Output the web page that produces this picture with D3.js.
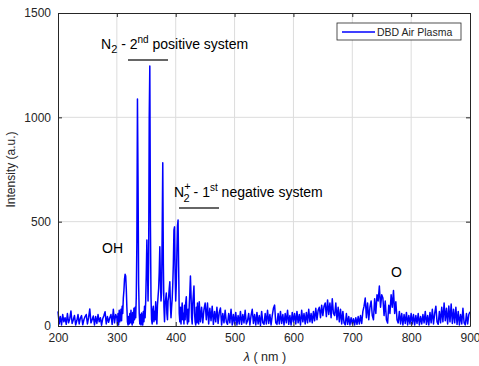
<!DOCTYPE html>
<html>
<head>
<meta charset="utf-8">
<script src="https://cdn.jsdelivr.net/npm/d3@7"></script>
<style>
  body { margin: 0; background: #fff; }
  svg { display: block; font-family: "Liberation Sans", Arial, sans-serif; }
</style>
</head>
<body>
<div id="chart"></div>
<script>
// wavelength grid: 2 nm steps outside the band region, 1 nm steps 300-439 nm
const lambda = [].concat(d3.range(200, 300, 2), d3.range(300, 440, 1), d3.range(440, 902, 2));

// intensities (a.u.)
const intensity200 = [
  70, 10, 45, 5, 55, 20, 40, 8, 60, 15, 35, 72, 12, 30, 50, 5, 25, 55, 10, 38,
  50, 6, 30, 45, 55, 10, 40, 82, 15, 30, 48, 5, 45, 12, 55, 20, 40, 4, 35, 50,
  68, 10, 45, 18, 40, 55, 8, 80, 15, 55
];
const intensity300 = [
  40, 10, 60, 5, 75, 20, 35, 80, 25, 95, 60, 135, 170, 225, 248, 240, 180, 90, 20, 5,
  45, 10, 60, 15, 75, 20, 5, 65, 15, 85, 30, 90, 40, 140, 400, 1088, 700, 200, 60, 10,
  55, 5, 62, 15, 5, 70, 20, 95, 40, 120, 250, 412, 280, 120, 300, 1000, 1246, 500, 140, 30,
  10, 80, 95, 20, 70, 30, 116, 40, 10, 100, 140, 180, 260, 380, 220, 120, 160, 450, 782, 300,
  90, 20, 110, 130, 158, 60, 30, 120, 140, 180, 212, 100, 40, 90, 130, 200, 300, 460, 475, 250,
  120, 200, 350, 480, 508, 280, 60, 20, 90, 10, 70, 110, 30, 60, 10, 100, 30, 110, 140, 40,
  10, 80, 20, 100, 160, 240, 150, 40, 10, 110, 150, 192, 60, 20, 5, 90, 15, 110, 30, 10
];
const intensity440 = [
  116, 20, 90, 15, 80, 110, 30, 110, 10, 85, 25, 95, 8, 70, 20, 90, 12, 65, 86, 5,
  60, 15, 75, 20, 8, 60, 15, 80, 5, 55, 10,
  65, 5, 50, 10, 70, 8, 55, 15, 75, 10, 25, 60, 5, 50, 80, 12, 55, 5, 65, 10,
  50, 3, 70, 15, 8, 60, 10, 75, 12, 55, 5, 50, 85, 100, 15, 8, 60, 10, 70, 12,
  55, 5, 60, 15, 75, 8, 50, 5, 65, 20,
  60, 10, 70, 15, 55, 5, 75, 20, 60, 10, 65, 15, 80, 20, 60, 15, 70, 25, 85, 30,
  75, 90, 40, 100, 50, 95, 110, 45, 125, 55, 110, 40, 130, 60, 50, 110, 30, 90, 20, 80,
  10, 70, 15, 5, 60, 8, 45, 5, 40, 10,
  35, 5, 40, 8, 45, 10, 50, 12, 70, 95, 134, 40, 110, 30, 90, 120, 50, 30, 130, 60,
  150, 120, 192, 90, 150, 134, 50, 120, 30, 14, 100, 60, 150, 90, 170, 60, 116, 30, 15, 70,
  10, 60, 5, 55, 12, 65, 5, 50, 10, 60,
  10, 55, 5, 50, 12, 60, 5, 45, 10, 55, 15, 70, 8, 50, 5, 65, 15, 80, 10, 60,
  95, 20, 8, 70, 15, 90, 20, 110, 25, 85, 10, 96, 20, 105, 12, 80, 15, 90, 8, 70,
  5, 55, 10, 85, 15, 5, 60, 10, 55, 68
];
const intensity = [].concat(intensity200, intensity300, intensity440);

const xTicks = [200, 300, 400, 500, 600, 700, 800, 900];
const yTicks = [0, 500, 1000, 1500];
const seriesName = 'DBD Air Plasma';

const W = 479, H = 366;
const margin = { top: 13, right: 9, bottom: 40, left: 58 };
const width = W - margin.left - margin.right;
const height = H - margin.top - margin.bottom;
const axisColor = '#262626';

const svg = d3.select('#chart').append('svg')
  .attr('width', W)
  .attr('height', H);

const g = svg.append('g')
  .attr('transform', `translate(${margin.left},${margin.top})`);

const x = d3.scaleLinear().domain([200, 900]).range([0, width]);
const y = d3.scaleLinear().domain([0, 1500]).range([height, 0]);

// grid
g.append('g')
  .selectAll('line')
  .data(xTicks.slice(1, -1))
  .enter().append('line')
  .attr('x1', d => x(d)).attr('x2', d => x(d))
  .attr('y1', 0).attr('y2', height)
  .attr('stroke', '#dcdcdc');

g.append('g')
  .selectAll('line')
  .data(yTicks.slice(1, -1))
  .enter().append('line')
  .attr('x1', 0).attr('x2', width)
  .attr('y1', d => y(d)).attr('y2', d => y(d))
  .attr('stroke', '#dcdcdc');

// spectrum
const data = lambda.map((l, i) => ({ l, v: intensity[i] }));
const line = d3.line()
  .x(d => x(d.l))
  .y(d => y(d.v));

g.append('path')
  .datum(data)
  .attr('fill', 'none')
  .attr('stroke', '#0000ff')
  .attr('stroke-width', 1.5)
  .attr('stroke-linejoin', 'round')
  .attr('d', line);

// axes (ticks inward, MATLAB style)
const styleAxis = sel => {
  sel.select('.domain').attr('stroke', axisColor);
  sel.selectAll('.tick line').attr('stroke', axisColor);
  sel.selectAll('text')
    .attr('fill', axisColor)
    .attr('font-size', '12px')
    .attr('font-family', '"Liberation Sans", Arial, sans-serif');
};

g.append('g')
  .attr('transform', `translate(0,${height})`)
  .call(d3.axisBottom(x).tickValues(xTicks).tickSizeInner(-4).tickSizeOuter(0).tickPadding(7))
  .call(styleAxis);

g.append('g')
  .call(d3.axisLeft(y).tickValues(yTicks).tickFormat(d3.format('d')).tickSizeInner(-4).tickSizeOuter(0).tickPadding(7))
  .call(styleAxis);

g.append('g')
  .call(d3.axisTop(x).tickValues(xTicks).tickSizeInner(-4).tickSizeOuter(0).tickFormat(''))
  .call(styleAxis);

g.append('g')
  .attr('transform', `translate(${width},0)`)
  .call(d3.axisRight(y).tickValues(yTicks).tickSizeInner(-4).tickSizeOuter(0).tickFormat(''))
  .call(styleAxis);

// axis labels
svg.append('text')
  .attr('transform', `translate(15,${margin.top + height / 2}) rotate(-90)`)
  .attr('text-anchor', 'middle')
  .attr('font-size', '12px')
  .attr('fill', axisColor)
  .text('Intensity (a.u.)');

const xl = svg.append('text')
  .attr('x', margin.left + width / 2 + 1)
  .attr('y', 361)
  .attr('text-anchor', 'middle')
  .attr('font-size', '12.5px')
  .attr('fill', axisColor);
xl.append('tspan').attr('font-style', 'italic').text('λ');
xl.append('tspan').text(' ( nm )');

// legend
const legend = svg.append('g').attr('transform', 'translate(337,23)');
legend.append('rect')
  .attr('width', 124).attr('height', 17)
  .attr('fill', '#fff')
  .attr('stroke', axisColor)
  .attr('stroke-width', 0.8);
legend.append('line')
  .attr('x1', 5).attr('x2', 38)
  .attr('y1', 9).attr('y2', 9)
  .attr('stroke', '#0000ff')
  .attr('stroke-width', 1.5);
legend.append('text')
  .attr('x', 40).attr('y', 12.5)
  .attr('font-size', '10.5px')
  .attr('fill', axisColor)
  .text(seriesName);

// annotations
const annot = (px, py) => svg.append('text')
  .attr('x', px).attr('y', py)
  .attr('font-size', '14px')
  .attr('fill', '#000');

const t1 = annot(101, 49);
t1.append('tspan').text('N');
t1.append('tspan').attr('dy', 4).attr('font-size', '11px').text('2');
t1.append('tspan').attr('dy', -4).text(' - 2');
t1.append('tspan').attr('dy', -6).attr('font-size', '10px').text('nd');
t1.append('tspan').attr('dy', 6).text(' positive system');

svg.append('line')
  .attr('x1', 128).attr('x2', 168)
  .attr('y1', 60).attr('y2', 60)
  .attr('stroke', '#333').attr('stroke-width', 1.6);

const t2 = annot(174, 197);
t2.append('tspan').text('N');
t2.append('tspan').attr('dy', -7).attr('font-size', '11px').text('+');
t2.append('tspan').attr('dx', -7).attr('dy', 12).attr('font-size', '11px').text('2');
t2.append('tspan').attr('dy', -5).text(' - 1');
t2.append('tspan').attr('dy', -6).attr('font-size', '10px').text('st');
t2.append('tspan').attr('dy', 6).text(' negative system');

svg.append('line')
  .attr('x1', 179).attr('x2', 219)
  .attr('y1', 208).attr('y2', 208)
  .attr('stroke', '#333').attr('stroke-width', 1.6);

annot(102, 253).text('OH');
annot(391, 277).text('O');
</script>
</body>
</html>
